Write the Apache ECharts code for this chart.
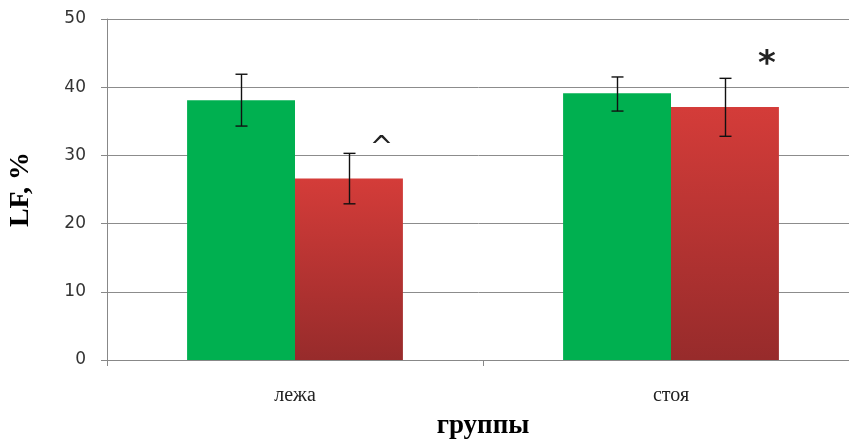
<!DOCTYPE html>
<html>
<head>
<meta charset="utf-8">
<script src="https://cdn.jsdelivr.net/npm/echarts@6/dist/echarts.min.js"></script>
<style>
  html, body { margin: 0; padding: 0; background: #fff; }
  #chart { width: 849px; height: 439px; }
</style>
</head>
<body>
<div id="chart"></div>
<script>
const categories = ['лежа', 'стоя']
const greenValues = [38.1, 39.1]
const redValues = [26.6, 37.1]
// границы доверительных интервалов [низ, верх]
const greenErr = [[34.3, 41.9], [36.5, 41.5]]
const redErr = [[22.9, 30.3], [32.8, 41.3]]
// значки над красными столбиками
const redMarks = ['^', '*']
const markLevel = [31.0, 43.3]

const myChart = echarts.init(document.getElementById('chart'))

// усы погрешностей
function errorSeries(errData, offset) {
  return {
    type: 'custom',
    z: 10,
    data: errData.map((e, i) => [i, e[0], e[1]]),
    renderItem: function (params, api) {
      const lo = api.coord([api.value(0), api.value(1)])
      const hi = api.coord([api.value(0), api.value(2)])
      const bw = api.size([1, 0])[0]
      const x = Math.round(lo[0] + bw * offset) + 0.5
      const cap = 6
      const style = { stroke: '#111', lineWidth: 1.4 }
      return {
        type: 'group',
        children: [
          { type: 'line', shape: { x1: x, y1: hi[1], x2: x, y2: lo[1] }, style },
          { type: 'line', shape: { x1: x - cap, y1: hi[1], x2: x + cap, y2: hi[1] }, style },
          { type: 'line', shape: { x1: x - cap, y1: lo[1], x2: x + cap, y2: lo[1] }, style }
        ]
      }
    }
  }
}

const option = {
  animation: false,
  grid: { left: 107, top: 19, bottom: 79, right: -10, containLabel: false, outerBoundsMode: 'none' },
  xAxis: {
    type: 'category',
    data: categories,
    name: 'группы',
    nameLocation: 'middle',
    nameGap: 53,
    nameTextStyle: { fontFamily: 'Liberation Serif', fontWeight: 'bold', fontSize: 27, color: '#000' },
    axisLine: { lineStyle: { color: '#888', width: 1 } },
    axisTick: { show: true, length: 6, lineStyle: { color: '#888' } },
    axisLabel: { fontFamily: 'Liberation Serif', fontSize: 20, color: '#222', margin: 26 }
  },
  yAxis: {
    type: 'value',
    min: 0,
    max: 50,
    interval: 10,
    name: 'LF, %',
    nameLocation: 'middle',
    nameGap: 72,
    nameRotate: 90,
    nameTextStyle: { fontFamily: 'Liberation Serif', fontWeight: 'bold', fontSize: 28, color: '#000' },
    axisLine: { show: true, lineStyle: { color: '#888' } },
    axisTick: { show: true, length: 6, lineStyle: { color: '#888' } },
    axisLabel: { fontFamily: 'DejaVu Sans', fontSize: 17, color: '#333', margin: 21 },
    splitLine: { lineStyle: { color: '#8c8c8c', width: 1 } }
  },
  series: [
    {
      type: 'bar',
      data: greenValues,
      barWidth: '28.7%',
      barGap: '0%',
      itemStyle: { color: '#00b050' }
    },
    {
      type: 'bar',
      data: redValues,
      barWidth: '28.7%',
      itemStyle: {
        color: new echarts.graphic.LinearGradient(0, 0, 0, 1, [
          { offset: 0, color: '#d43c39' },
          { offset: 1, color: '#972b2b' }
        ])
      }
    },
    errorSeries(greenErr, -0.1435),
    errorSeries(redErr, 0.1435),
    {
      type: 'custom',
      z: 11,
      data: redMarks.map((m, i) => [i, markLevel[i], m]),
      renderItem: function (params, api) {
        const p = api.coord([api.value(0), api.value(1)])
        const bw = api.size([1, 0])[0]
        const m = redMarks[params.dataIndex]
        const shift = m === '*' ? 0.255 : 0.23
        return {
          type: 'text',
          x: p[0] + bw * shift,
          y: p[1],
          style: {
            text: m,
            fontFamily: 'DejaVu Sans',
            fontSize: m === '*' ? 34 : 28,
            fontWeight: m === '*' ? 'bold' : 'normal',
            fill: '#222',
            align: 'center',
            verticalAlign: 'middle'
          }
        }
      }
    }
  ]
}

option && myChart.setOption(option)
</script>
</body>
</html>
